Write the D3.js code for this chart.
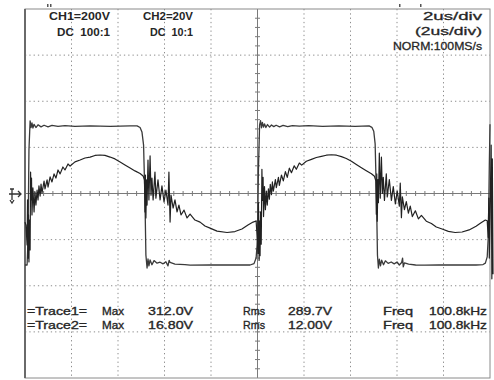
<!DOCTYPE html>
<html>
<head>
<meta charset="utf-8">
<script src="https://cdn.jsdelivr.net/npm/d3@7"></script>
<style>
  html, body { margin: 0; padding: 0; background: #fff; }
  svg { display: block; }
  text { font-family: "Liberation Sans", Arial, sans-serif; fill: #262626; white-space: pre; }
</style>
</head>
<body>
<svg id="scope" width="494" height="380"></svg>
<script>
// time in us (2us/div, 10 div), CH1 in volts (200V/div), CH2 in volts (20V/div)
const timeDivs = d3.range(0, 21, 2);
const ch1Divs = d3.range(-800, 801, 200);

// CH1 : square wave [t, V]
const trace1 = [
  [0,-310],[0.09,-310],[0.13,-202],[0.17,189],[0.22,315],[0.26,286],[0.30,306],[0.34,284],
  [0.39,300],[0.47,286],[0.56,298],[0.69,289],[0.82,296],[0.99,289],[1.16,295],[1.42,291],
  [1.72,294],[2.15,291],[2.8,293],[3.66,291],[4.52,293],[4.82,293],[4.95,286],[5.03,267],
  [5.10,210],[5.16,-28],[5.20,-267],[5.25,-323],[5.29,-284],[5.33,-314],[5.38,-288],[5.46,-309],
  [5.55,-291],[5.68,-302],[5.81,-298],[5.94,-305],[6.06,-296],[6.15,-314],[6.2,-290],[6.24,-299],
  [6.45,-306],[6.88,-308],[7.10,-311],[7.96,-310],[8.82,-310],[9.68,-310],[9.85,-304],[9.94,-280],
  [10.0,-202],[10.04,102],[10.09,297],[10.13,316],[10.17,285],[10.21,308],[10.26,288],[10.30,302],
  [10.36,286],[10.43,299],[10.52,288],[10.6,297],[10.7,290],[10.8,296],[10.95,289],[11.1,295],
  [11.3,290],[11.5,294],[11.8,292],[12.2,294],[12.8,291],[13.5,293],[14.2,291],[14.8,293],
  [14.92,287],[15.0,270],[15.06,215],[15.12,-30],[15.16,-268],[15.2,-323],[15.24,-285],[15.29,-314],
  [15.34,-289],[15.42,-309],[15.5,-292],[15.62,-303],[15.75,-297],[15.88,-305],[16.0,-297],[16.1,-310],
  [16.2,-299],[16.24,-280],[16.27,-318],[16.32,-301],[16.5,-306],[16.8,-310],[17.2,-311],[17.8,-310],
  [18.6,-310],[19.4,-310],[19.7,-308],[19.8,-302],[19.88,-275],[19.93,-180],[19.97,120],[20.0,300]
];

// CH2 : triangle-ish wave with switching noise [t, V]
const trace2 = [
  [0,-12.4],[0.04,-13.7],[0.09,-22.3],[0.11,-2.8],[0.13,-28],[0.15,-9.3],[0.17,-29.7],[0.19,-11.5],
  [0.22,-24.5],[0.24,9.3],[0.26,-2.8],[0.28,6.7],[0.30,-9.3],[0.34,2.4],[0.39,-8],[0.43,0.7],
  [0.47,-5],[0.52,1.5],[0.56,-2.8],[0.60,3.3],[0.65,-1.1],[0.69,4.1],[0.73,0.2],[0.82,5.4],
  [0.86,2],[0.95,5.9],[0.99,2.8],[1.08,7.2],[1.16,5],[1.25,8.5],[1.33,6.7],[1.42,10.2],
  [1.51,8.5],[1.63,11.5],[1.72,10.2],[1.85,12.8],[1.94,11.9],[2.15,13.7],[2.37,14.5],[2.58,15.4],
  [2.8,15.8],[3.01,16.5],[3.23,16.7],[3.44,16.5],[3.66,15.8],[3.87,15],[4.09,13.7],[4.3,12.4],
  [4.52,11.1],[4.73,9.8],[4.95,8.7],[5.08,7.6],[5.14,5.9],[5.16,-8],[5.18,8],[5.20,-10.6],
  [5.23,5.9],[5.25,-5],[5.29,14.5],[5.33,-2.8],[5.38,16.3],[5.42,-0.7],[5.46,6.7],[5.51,-2.8],
  [5.59,9.3],[5.63,-2],[5.72,5.9],[5.81,-2.8],[5.89,3.3],[5.98,-3.7],[6.06,1.5],[6.15,-5],
  [6.19,9.3],[6.24,-12.4],[6.28,-0.7],[6.37,-6.3],[6.45,-2.8],[6.54,-8],[6.62,-5],[6.71,-9.3],
  [6.84,-7.2],[6.97,-10.6],[7.10,-8.9],[7.31,-11.5],[7.53,-12.4],[7.74,-14.1],[7.96,-15],[8.26,-16.3],
  [8.69,-16.9],[9.03,-16.5],[9.33,-15.4],[9.59,-13.7],[9.81,-12.4],[9.94,-11.9],[9.98,-18],
  [10.02,-26],[10.04,-4],[10.07,-29],[10.09,-12],[10.11,-27],[10.13,-8],[10.16,-22],[10.19,10.5],
  [10.21,-3],[10.24,7],[10.26,-10],[10.3,3],[10.34,-7],[10.38,1],[10.42,-5],[10.47,2],
  [10.51,-2.5],[10.55,4],[10.6,-0.5],[10.64,5],[10.68,1],[10.77,6],[10.81,2.5],[10.9,7],
  [10.94,3.5],[11.03,8],[11.11,5.5],[11.2,9.5],[11.28,7],[11.37,11],[11.46,9],[11.58,12],
  [11.67,10.5],[11.8,13.2],[11.9,12.3],[12.1,14],[12.32,14.8],[12.53,15.6],[12.75,16.1],[12.96,16.6],
  [13.18,16.8],[13.4,16.6],[13.61,16],[13.82,15.2],[14.04,14],[14.25,12.6],[14.47,11.2],[14.68,9.9],
  [14.9,8.6],[15.03,7.5],[15.09,5.5],[15.11,-9],[15.13,8.5],[15.15,-12],[15.18,6],[15.2,-4],
  [15.24,17.5],[15.28,-2],[15.33,15.8],[15.37,0],[15.41,7],[15.46,-3],[15.54,8.5],[15.58,-1.5],
  [15.67,6],[15.76,-3],[15.84,3],[15.93,-4.5],[16.01,1],[16.1,-5.5],[16.14,4.5],[16.19,-10.5],
  [16.23,-1.5],[16.32,-7],[16.4,-3.5],[16.49,-8.5],[16.57,-5.5],[16.66,-10],[16.79,-7.5],[16.92,-11],
  [17.05,-9.5],[17.26,-12],[17.48,-13],[17.69,-14.5],[17.91,-15.3],[18.21,-16.4],[18.5,-16.9],[18.8,-16.7],
  [19.1,-15.8],[19.4,-14.2],[19.6,-12.8],[19.8,-11.5],[19.88,-11.8],[19.92,-19],[19.95,-2],[19.97,-28],
  [20.0,-10],[20.05,21],[20.08,-37],[20.1,15],[20.13,-35]
];

const headerLeft = [
  {text:"CH1=200V", x:49, y:20, w:61},
  {text:"DC  100:1", x:57, y:36, w:53},
  {text:"CH2=20V", x:143, y:20, w:50},
  {text:"DC  10:1", x:150, y:36, w:43}
];
const headerRight = [
  {text:"2us/div", x:482, y:20, w:59},
  {text:"(2us/div)", x:482, y:35, w:67},
  {text:"NORM:100MS/s", x:482, y:50, w:89}
];
const measRows = ["=Trace1=", "=Trace2="];
const measMax = ["312.0V", "16.80V"];
const measRms = ["289.7V", "12.00V"];
const measFreq = ["100.8kHz", "100.8kHz"];

const svg = d3.select("#scope");
const x = d3.scaleLinear().domain([0, 20]).range([25, 490]);
const y1 = d3.scaleLinear().domain([-800, 800]).range([378, 9]);
const y2 = d3.scaleLinear().domain([-80, 80]).range([378, 9]);

// graticule - dotted
const grid = svg.append("g");
grid.selectAll(".vg").data(timeDivs.slice(1, -1).filter(d => d !== 10)).enter()
  .append("line")
  .attr("x1", d => x(d)).attr("x2", d => x(d))
  .attr("y1", y1(800)).attr("y2", y1(-800))
  .attr("stroke", "#8c8c8c").attr("stroke-width", 1)
  .attr("stroke-dasharray", "1.3,3");
grid.selectAll(".hg").data(ch1Divs.slice(1, -1).filter(d => d !== 0)).enter()
  .append("line")
  .attr("x1", x(0)).attr("x2", x(20))
  .attr("y1", d => y1(d)).attr("y2", d => y1(d))
  .attr("stroke", "#8c8c8c").attr("stroke-width", 1)
  .attr("stroke-dasharray", "1.3,3");

// centre axes with minor ticks
grid.append("line")
  .attr("x1", x(0)).attr("x2", x(20)).attr("y1", y1(0)).attr("y2", y1(0))
  .attr("stroke", "#7a7a7a");
grid.append("line")
  .attr("x1", x(10)).attr("x2", x(10)).attr("y1", y1(800)).attr("y2", y1(-800))
  .attr("stroke", "#7a7a7a");
grid.selectAll(".ht").data(d3.range(0.4, 20, 0.4)).enter()
  .append("line")
  .attr("x1", d => x(d)).attr("x2", d => x(d))
  .attr("y1", y1(0) - 2.5).attr("y2", y1(0) + 2.5)
  .attr("stroke", "#7a7a7a");
grid.selectAll(".vt").data(d3.range(-760, 800, 40)).enter()
  .append("line")
  .attr("x1", x(10) - 2.5).attr("x2", x(10) + 2.5)
  .attr("y1", d => y1(d)).attr("y2", d => y1(d))
  .attr("stroke", "#7a7a7a");

// border
svg.append("rect")
  .attr("x", x(0)).attr("y", y1(800))
  .attr("width", x(20) - x(0)).attr("height", y1(-800) - y1(800))
  .attr("fill", "none").attr("stroke", "#8a8a8a");
svg.append("line")
  .attr("x1", x(0)).attr("x2", x(0)).attr("y1", y1(800)).attr("y2", y1(-800))
  .attr("stroke", "#6a6a6a").attr("stroke-width", 2);

// trigger markers on top
svg.selectAll(".tm").data([47, 50, 399, 420]).enter()
  .append("rect")
  .attr("x", d => d).attr("y", 4).attr("width", 1.5).attr("height", 3)
  .attr("fill", "#555");

// ground marker
svg.append("path")
  .attr("d", "M9,194 H21 M18,191 L21,194 L18,197 M12,189 V200 M10,189 H14 M10,200 L12,203 L14,200")
  .attr("stroke", "#333").attr("stroke-width", 1.3).attr("fill", "none");

// traces
const line1 = d3.line().x(d => x(d[0])).y(d => y1(d[1]));
const line2 = d3.line().x(d => x(d[0])).y(d => y2(d[1]));
svg.append("path").datum(trace1).attr("d", line1)
  .attr("fill", "none").attr("stroke", "#3a3a3a").attr("stroke-width", 1.3)
  .attr("stroke-linejoin", "round");
svg.append("path").datum(trace2).attr("d", line2)
  .attr("fill", "none").attr("stroke", "#222").attr("stroke-width", 1.2)
  .attr("stroke-linejoin", "round");

// header text
svg.selectAll(".hl").data(headerLeft).enter()
  .append("text")
  .attr("x", d => d.x).attr("y", d => d.y)
  .attr("textLength", d => d.w).attr("lengthAdjust", "spacingAndGlyphs")
  .style("font-size", "11.5px").style("font-weight", "bold")
  .text(d => d.text);
svg.selectAll(".hr").data(headerRight).enter()
  .append("text")
  .attr("x", d => d.x - d.w).attr("y", d => d.y)
  .attr("textLength", d => d.w).attr("lengthAdjust", "spacingAndGlyphs")
  .style("font-size", "11.5px").style("stroke", "#262626").style("stroke-width", 0.3)
  .text(d => d.text);

// measurement rows
const rowY = [315, 329];
const meas = svg.append("g").style("font-size", "11.5px")
  .style("stroke", "#262626").style("stroke-width", 0.35);
measRows.forEach((r, i) => {
  const cells = [
    {t: r, x: 27, w: 60},
    {t: "Max", x: 102, w: 22},
    {t: measMax[i], x: 148, w: 45},
    {t: "Rms", x: 243, w: 22},
    {t: measRms[i], x: 288, w: 44},
    {t: "Freq", x: 383, w: 30},
    {t: measFreq[i], x: 429, w: 58}
  ];
  meas.selectAll(".r" + i).data(cells).enter()
    .append("text")
    .attr("x", d => d.x).attr("y", rowY[i])
    .attr("textLength", d => d.w).attr("lengthAdjust", "spacingAndGlyphs")
    .text(d => d.t);
});
</script>
</body>
</html>
